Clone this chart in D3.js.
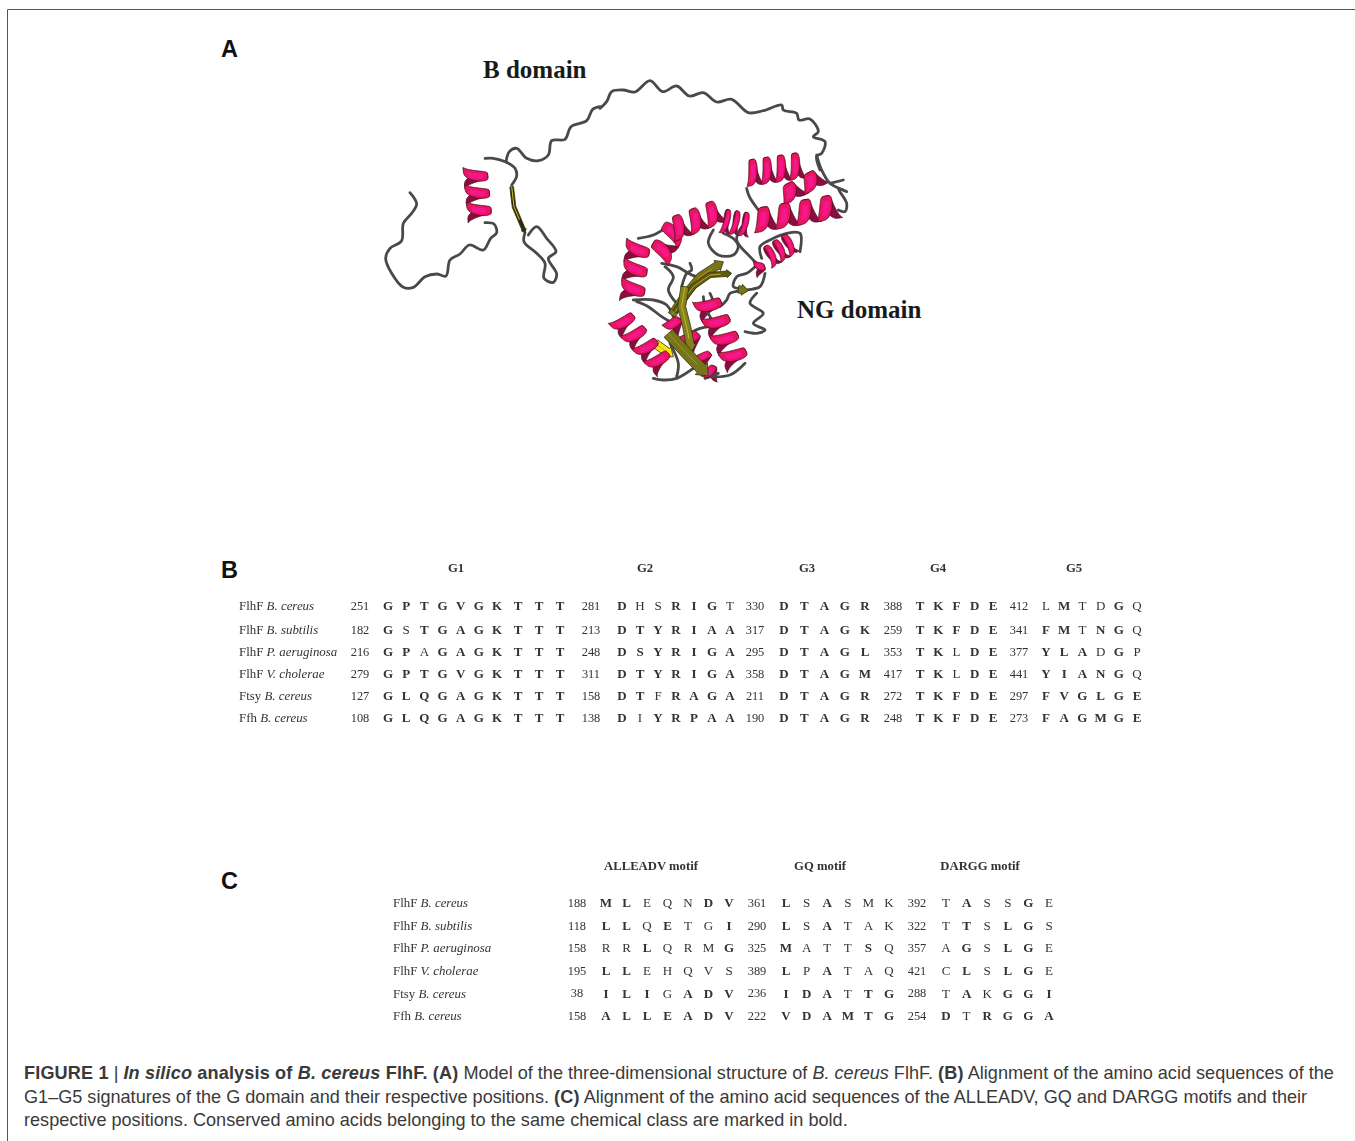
<!DOCTYPE html>
<html>
<head>
<meta charset="utf-8">
<title>FIGURE 1</title>
<script src="https://cdn.jsdelivr.net/npm/d3@7"></script>
<style>
	html, body { margin: 0; padding: 0; background: #fff; }
	svg { display: block; }
	text { white-space: pre; }
	.seq { font-family: "Liberation Serif", serif; fill: #333; }
	.caption { font-family: "Liberation Sans", sans-serif; font-size: 18.1px; fill: #3a3a3a; }
	.panel { font-family: "Liberation Sans", sans-serif; font-size: 23.5px; font-weight: bold; fill: #111; }
	.domain-label { font-family: "Liberation Serif", serif; font-size: 25px; font-weight: bold; fill: #1a1a1a; }
</style>
</head>
<body>
<div id="figure"></div>
<script>
const width = 1355;
const height = 1141;

// Organismos das linhas (iguais nos painéis B e C)
const proteins = ["FlhF", "FlhF", "FlhF", "FlhF", "Ftsy", "Ffh"];
const species = ["B. cereus", "B. subtilis", "P. aeruginosa", "V. cholerae", "B. cereus", "B. cereus"];

// Sequências: maiúscula = negrito, minúscula = fonte normal
const g1Seq = ["GPTGVGKTTT", "GsTGAGKTTT", "GPaGAGKTTT", "GPTGVGKTTT", "GLQGAGKTTT", "GLQGAGKTTT"];
const g2Seq = ["DhsRIGt", "DTYRIAA", "DSYRIGA", "DTYRIGA", "DTfRAGA", "DiYRPAA"];
const g3Seq = ["DTAGR", "DTAGK", "DTAGL", "DTAGM", "DTAGR", "DTAGR"];
const g4Seq = ["TKFDE", "TKFDE", "TKlDE", "TKlDE", "TKFDE", "TKFDE"];
const g5Seq = ["lMtdGq", "FMtNGq", "YLAdGp", "YIANGq", "FVGLGE", "FAGMGE"];
const g1Pos = [251, 182, 216, 279, 127, 108];
const g2Pos = [281, 213, 248, 311, 158, 138];
const g3Pos = [330, 317, 295, 358, 211, 190];
const g4Pos = [388, 259, 353, 417, 272, 248];
const g5Pos = [412, 341, 377, 441, 297, 273];

const alleadvSeq = ["MLeqnDV", "LLqEtgI", "rrLqrmG", "LLehqvs", "ILIgADV", "ALLEADV"];
const gqSeq = ["LsAsmk", "LsAtak", "MattSq", "LpAtaq", "IDAtTG", "VDAMTG"];
const darggSeq = ["tAssGe", "tTsLGs", "aGsLGe", "cLsLGe", "tAkGGI", "DtRGGA"];
const alleadvPos = [188, 118, 158, 195, 38, 158];
const gqPos = [361, 290, 325, 389, 236, 222];
const darggPos = [392, 322, 357, 421, 288, 254];

const captionLines = [
	[["FIGURE 1", "b"], [" | ", ""], ["In silico", "bi"], [" analysis of ", "b"], ["B. cereus", "bi"], [" FlhF. (A)", "b"],
		[" Model of the three-dimensional structure of ", ""], ["B. cereus", "i"], [" FlhF. ", ""], ["(B)", "b"],
		[" Alignment of the amino acid sequences of the", ""]],
	[["G1–G5 signatures of the G domain and their respective positions. ", ""], ["(C)", "b"],
		[" Alignment of the amino acid sequences of the ALLEADV, GQ and DARGG motifs and their", ""]],
	[["respective positions. Conserved amino acids belonging to the same chemical class are marked in bold.", ""]]
];

const svg = d3.select("#figure").append("svg")
	.attr("width", width)
	.attr("height", height);

const defs = svg.append("defs");
defs.append("filter").attr("id", "soft").append("feGaussianBlur").attr("stdDeviation", 0.45);
defs.append("filter").attr("id", "softText").append("feGaussianBlur").attr("stdDeviation", 0.25);

// Moldura: só topo e lado esquerdo
svg.append("path")
	.attr("d", `M${width},9.5H7.5V${height}`)
	.attr("fill", "none")
	.attr("stroke", "#555")
	.attr("stroke-width", 1);

// ---- Painéis B e C ----
const rowB = d3.scaleLinear().domain([0, 1, 5]).range([606, 630, 718]);
const rowC = d3.scaleLinear().domain([0, 5]).range([903, 1016]);

const panelB = [
	{ title: "G1", titleX: 456, seq: g1Seq, pos: g1Pos, posX: 360, x: d3.scaleLinear().domain([0, 6, 9]).range([388, 497, 560]) },
	{ title: "G2", titleX: 645, seq: g2Seq, pos: g2Pos, posX: 591, x: d3.scaleLinear().domain([0, 6]).range([622, 730]) },
	{ title: "G3", titleX: 807, seq: g3Seq, pos: g3Pos, posX: 755, x: d3.scaleLinear().domain([0, 4]).range([784, 865]) },
	{ title: "G4", titleX: 938, seq: g4Seq, pos: g4Pos, posX: 893, x: d3.scaleLinear().domain([0, 4]).range([920, 993]) },
	{ title: "G5", titleX: 1074, seq: g5Seq, pos: g5Pos, posX: 1019, x: d3.scaleLinear().domain([0, 5]).range([1046, 1137]) }
];
const panelC = [
	{ title: "ALLEADV motif", titleX: 651, seq: alleadvSeq, pos: alleadvPos, posX: 577, x: d3.scaleLinear().domain([0, 6]).range([606, 729]) },
	{ title: "GQ motif", titleX: 820, seq: gqSeq, pos: gqPos, posX: 757, x: d3.scaleLinear().domain([0, 5]).range([786, 889]) },
	{ title: "DARGG motif", titleX: 980, seq: darggSeq, pos: darggPos, posX: 917, x: d3.scaleLinear().domain([0, 5]).range([946, 1049]) }
];

function desenharAlinhamento(blocks, rowY, labelX, titleY) {
	const g = svg.append("g").attr("class", "seq").attr("filter", "url(#softText)");

	const label = g.selectAll(".row-label")
		.data(d3.range(proteins.length))
		.join("text")
		.attr("class", "row-label")
		.attr("x", labelX)
		.attr("y", i => rowY(i))
		.attr("dy", "0.33em")
		.attr("font-size", 12.9);
	label.append("tspan").text(i => proteins[i] + " ");
	label.append("tspan").attr("font-style", "italic").text(i => species[i]);

	blocks.forEach(block => {
		g.append("text")
			.attr("x", block.titleX)
			.attr("y", titleY)
			.attr("dy", "0.33em")
			.attr("text-anchor", "middle")
			.attr("font-size", 12.7)
			.attr("font-weight", "bold")
			.text(block.title);

		g.selectAll(null)
			.data(block.pos)
			.join("text")
			.attr("x", block.posX)
			.attr("y", (d, i) => rowY(i))
			.attr("dy", "0.33em")
			.attr("text-anchor", "middle")
			.attr("font-size", 12.4)
			.text(d => d);

		block.seq.forEach((s, i) => {
			g.selectAll(null)
				.data(s.split(""))
				.join("text")
				.attr("x", (d, j) => block.x(j))
				.attr("y", rowY(i))
				.attr("dy", "0.33em")
				.attr("text-anchor", "middle")
				.attr("font-size", 13)
				.attr("font-weight", d => d === d.toUpperCase() ? "bold" : "normal")
				.text(d => d.toUpperCase());
		});
	});
}

desenharAlinhamento(panelB, rowB, 239, 568);
desenharAlinhamento(panelC, rowC, 393, 866);

// Letras dos painéis
svg.selectAll(".panel")
	.data([["A", 221, 57], ["B", 221, 578], ["C", 221, 889]])
	.join("text")
	.attr("class", "panel")
	.attr("x", d => d[1])
	.attr("y", d => d[2])
	.text(d => d[0]);

// Legenda
svg.selectAll(".caption")
	.data(captionLines)
	.join("text")
	.attr("class", "caption")
	.attr("x", 24)
	.attr("y", (d, i) => 1079 + i * 23.6)
	.selectAll("tspan")
	.data(d => d)
	.join("tspan")
	.attr("font-weight", d => d[1].includes("b") ? "bold" : "normal")
	.attr("font-style", d => d[1].includes("i") ? "italic" : "normal")
	.attr("letter-spacing", d => d[1].includes("b") ? 0.15 : 0)
	.text(d => d[0]);

// ---- Painel A: estrutura (traçada sobre recortes ampliados 3x) ----
const cropB = p => [370 + p[0] / 3, 50 + p[1] / 3];
const cropNG = p => [590 + p[0] / 3, 130 + p[1] / 3];
const cropTop = p => [600 + p[0] / 3, 70 + p[1] / 3];

const coilLine = d3.line().curve(d3.curveCatmullRom.alpha(0.5));

const coilsB = [
	[[120, 428], [140, 462], [125, 490], [100, 520], [95, 572], [60, 595], [47, 625], [65, 670], [100, 712], [130, 712], [165, 680], [200, 672], [228, 678], [240, 630], [270, 612], [298, 585], [340, 600], [362, 565], [380, 548], [372, 522], [345, 518]],
	[[345, 325], [370, 325], [408, 336], [435, 355], [440, 378], [425, 405]],
	[[408, 336], [418, 305], [440, 295], [470, 325], [505, 332], [535, 315], [545, 272], [585, 268], [603, 230], [650, 212], [668, 178], [690, 170]],
	[[465, 548], [462, 575], [500, 610], [525, 640], [522, 685], [550, 697], [560, 672], [535, 625], [558, 605], [530, 565], [500, 530], [475, 555]]
];
const coilsTop = [
	[[0, 115], [20, 95], [35, 65], [70, 60], [105, 66], [150, 32], [188, 65], [230, 48], [268, 78], [310, 68], [350, 96], [395, 88], [445, 128], [490, 122], [545, 105], [550, 120], [590, 130], [597, 150], [630, 147], [655, 185], [640, 200], [675, 215], [665, 250], [650, 258], [660, 300]]
];
const coilsNG = [
	[[680, 75], [695, 120], [720, 160], [770, 185], [745, 175], [770, 220], [765, 245], [745, 240]],
	[[720, 160], [760, 150]],
	[[470, 175], [478, 200], [505, 240]],
	[[145, 325], [190, 315], [225, 295]],
	[[215, 400], [260, 410], [320, 440], [400, 430]],
	[[225, 410], [250, 440], [235, 480], [260, 520]],
	[[130, 510], [190, 510], [230, 525], [250, 560]],
	[[140, 515], [175, 530], [215, 560], [240, 575]],
	[[370, 300], [355, 340], [385, 375], [430, 375], [445, 350], [435, 330], [400, 310]],
	[[455, 290], [440, 330], [480, 380], [500, 400]],
	[[515, 385], [510, 350], [540, 330], [590, 310], [630, 310], [630, 365]],
	[[525, 430], [510, 470], [470, 480], [420, 490], [410, 510], [385, 530], [360, 490]],
	[[495, 410], [470, 430], [440, 440], [430, 470], [450, 475]],
	[[500, 490], [480, 520], [520, 550], [490, 580], [525, 600], [500, 610], [465, 605]],
	[[300, 400], [305, 420], [290, 430], [275, 470]],
	[[190, 745], [220, 750], [260, 745], [330, 700]],
	[[350, 740], [420, 735], [465, 700]],
	[[340, 500], [345, 530], [375, 585]],
	[[300, 610], [330, 595], [360, 590]],
	[[240, 640], [265, 700], [260, 740]],
	[[345, 745], [385, 730]]
];

// eixo de cada hélice: início, fim, voltas, raio (px da página), inclinação
const helixB = [{ from: [315, 355], to: [330, 510], turns: 3, r: 12, tilt: 0.18 }];
const helixNG = [
	{ from: [470, 130], to: [640, 105], turns: 4, r: 13, tilt: 0.2 },
	{ from: [575, 200], to: [700, 135], turns: 2, r: 9, tilt: 0.15 },
	{ from: [495, 272], to: [745, 228], turns: 4, r: 12, tilt: 0.15 },
	{ from: [530, 385], to: [610, 335], turns: 3, r: 11, tilt: 0.35 },
	{ from: [395, 272], to: [478, 285], turns: 3, r: 12, tilt: 0.3 },
	{ from: [205, 385], to: [250, 305], turns: 1.5, r: 12, tilt: 0.2 },
	{ from: [245, 300], to: [395, 240], turns: 3, r: 12, tilt: 0.2 },
	{ from: [145, 335], to: [125, 510], turns: 3, r: 12, tilt: 0.18 },
	{ from: [85, 560], to: [225, 712], turns: 4, r: 12, tilt: 0.2 },
	{ from: [345, 505], to: [445, 705], turns: 4, r: 13, tilt: 0.2 },
	{ from: [505, 395], to: [515, 435], turns: 1, r: 5, tilt: 0.1 },
	{ from: [235, 570], to: [275, 600], turns: 1, r: 8, tilt: 0.1 },
	{ from: [285, 610], to: [325, 650], turns: 1, r: 9, tilt: 0.1 },
	{ from: [330, 670], to: [355, 700], turns: 1, r: 8, tilt: 0.1 },
	{ from: [345, 720], to: [385, 735], turns: 1, r: 7, tilt: 0.1 }
];

const strandsNG = [
	{ points: [[245, 555], [290, 490], [330, 440], [400, 395]], w: 24, fill: "#76741a", hi: "#c8860f" },
	{ points: [[255, 545], [310, 470], [360, 435], [425, 430]], w: 16, fill: "#5f5d10", hi: "#b9a82a" },
	{ points: [[285, 470], [275, 530], [290, 590], [305, 665]], w: 24, fill: "#85811c", hi: "#c8b82a" },
	{ points: [[235, 610], [290, 670], [355, 738]], w: 34, fill: "#76741a", hi: "#a39a20" },
	{ points: [[195, 640], [250, 680]], w: 26, fill: "#f5e60a", hi: "#f0a010" },
	{ points: [[445, 478], [475, 482]], w: 22, fill: "#76741a", hi: null }
];
const strandsB = [
	{ points: [[425, 410], [432, 470], [465, 548]], w: 11, fill: "#2e2c08", hi: "#d8c52a" }
];

function bandaHelice(h, t0, t1, crop, scale) {
	const a = crop(h.from), b = crop(h.to);
	const dx = b[0] - a[0], dy = b[1] - a[1];
	const len = Math.hypot(dx, dy);
	const ux = dx / len, uy = dy / len;
	const pitch = len / h.turns;
	const top = [], bottom = [];
	d3.range(0, 17).forEach(k => {
		const t = t0 + (t1 - t0) * k / 16;
		const angle = 2 * Math.PI * h.turns * t;
		const s = Math.sin(angle);
		// a fita estreita nas extremidades de cada meia volta, sem sumir
		const half = pitch * (0.11 + (scale - 0.11) * Math.pow(Math.abs(s), 0.6));
		const shift = pitch * h.tilt * s;
		const cx = a[0] + dx * t + ux * shift - uy * h.r * Math.cos(angle);
		const cy = a[1] + dy * t + uy * shift + ux * h.r * Math.cos(angle);
		top.push([cx + ux * half, cy + uy * half]);
		bottom.push([cx - ux * half, cy - uy * half]);
	});
	return d3.line()(top.concat(bottom.reverse())) + "Z";
}

function desenharHelices(g, helices, crop, frente) {
	helices.forEach(h => {
		const step = 1 / (2 * h.turns);
		d3.range(0, 2 * h.turns).forEach(k => {
			const isFront = k % 2 === 0;
			if (isFront !== frente) return;
			g.append("path")
				.attr("d", bandaHelice(h, k * step, (k + 1) * step, crop, isFront ? 0.3 : 0.22))
				.attr("fill", isFront ? "#e8125f" : "#8a0a40")
				.attr("stroke", "#4a0820")
				.attr("stroke-width", 0.7);
			if (isFront) {
				g.append("path")
					.attr("d", bandaHelice(h, (k + 0.3) * step, (k + 0.7) * step, crop, 0.14))
					.attr("fill", "#fb18a0")
					.attr("opacity", 0.75);
			}
		});
	});
}

function desenharCoils(g, coils, crop) {
	g.selectAll(null)
		.data(coils)
		.join("path")
		.attr("d", d => coilLine(d.map(crop)))
		.attr("fill", "none")
		.attr("stroke", "#4a4a4a")
		.attr("stroke-width", 2.8)
		.attr("stroke-linecap", "round")
		.attr("stroke-linejoin", "round");
}

function desenharFitas(g, strands, crop) {
	strands.forEach(s => {
		const pts = s.points.map(crop);
		const w = s.w / 6;
		const left = [], right = [];
		const n = pts.length;
		pts.forEach((p, i) => {
			const q0 = pts[Math.max(i - 1, 0)], q1 = pts[Math.min(i + 1, n - 1)];
			const l = Math.hypot(q1[0] - q0[0], q1[1] - q0[1]);
			const nx = -(q1[1] - q0[1]) / l, ny = (q1[0] - q0[0]) / l;
			// o último ponto vira a ponta da seta
			const tip = i === n - 1;
			const base = tip ? [p[0] - (q1[0] - q0[0]) / l * w * 1.8, p[1] - (q1[1] - q0[1]) / l * w * 1.8] : p;
			left.push([base[0] + nx * w, base[1] + ny * w]);
			right.push([base[0] - nx * w, base[1] - ny * w]);
			if (tip) {
				left.push([base[0] + nx * w * 1.5, base[1] + ny * w * 1.5], p);
				right.push([base[0] - nx * w * 1.5, base[1] - ny * w * 1.5]);
			}
		});
		g.append("path")
			.attr("d", d3.line()(left.concat(right.reverse())) + "Z")
			.attr("fill", s.fill)
			.attr("stroke", "#33300a")
			.attr("stroke-width", 0.8)
			.attr("stroke-linejoin", "round");
		if (s.hi) {
			g.append("path")
				.attr("d", d3.line()(pts.slice(0, n - 1).concat([[(pts[n - 2][0] + pts[n - 1][0]) / 2, (pts[n - 2][1] + pts[n - 1][1]) / 2]])))
				.attr("fill", "none")
				.attr("stroke", s.hi)
				.attr("stroke-width", 1);
		}
	});
}

const protein = svg.append("g").attr("filter", "url(#soft)");
desenharHelices(protein, helixB, cropB, false);
desenharHelices(protein, helixNG, cropNG, false);
desenharCoils(protein, coilsB, cropB);
desenharCoils(protein, coilsTop, cropTop);
desenharCoils(protein, coilsNG, cropNG);
desenharHelices(protein, helixNG.slice(-4), cropNG, true);
desenharFitas(protein, strandsB, cropB);
desenharFitas(protein, strandsNG, cropNG);
desenharHelices(protein, helixB, cropB, true);
desenharHelices(protein, helixNG.slice(0, -4), cropNG, true);

svg.selectAll(".domain-label")
	.data([["B domain", 483, 78], ["NG domain", 797, 318]])
	.join("text")
	.attr("class", "domain-label")
	.attr("x", d => d[1])
	.attr("y", d => d[2])
	.text(d => d[0]);
</script>
</body>
</html>
